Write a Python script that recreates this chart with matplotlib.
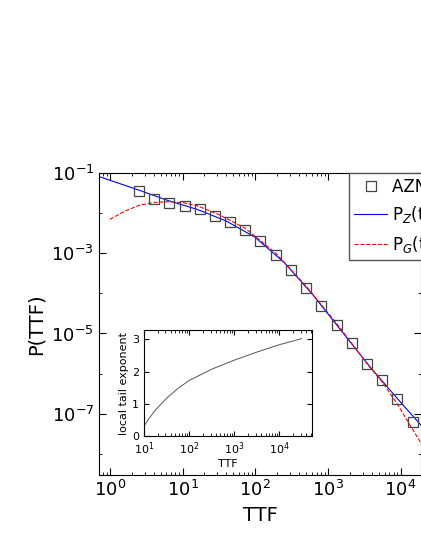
import numpy as np
import matplotlib
matplotlib.use("Agg")
import matplotlib.pyplot as plt

# data (log10 values)
pts_logx = [0.40,0.61,0.82,1.03,1.24,1.44,1.65,1.86,2.07,2.28,2.49,2.70,2.91,3.12,3.33,3.54,3.75,3.95,4.17]
pts_logy = [-1.44,-1.63,-1.73,-1.82,-1.90,-2.07,-2.21,-2.42,-2.69,-3.03,-3.42,-3.87,-4.31,-4.79,-5.24,-5.76,-6.17,-6.64,-7.21]
pz_logx = [-0.2,0.4,0.8,1.2,1.6,2.0,2.4,2.8,3.2,3.6,4.0,4.3]
pz_logy = [-1.05,-1.42,-1.68,-1.90,-2.19,-2.60,-3.23,-4.05,-4.97,-5.88,-6.72,-7.33]
pg_logx = [0.0,0.2,0.4,0.6,0.8,1.0,1.2,1.5,1.86,2.28,2.7,3.12,3.54,3.75,3.95,4.3]
pg_logy = [-2.15,-1.95,-1.80,-1.73,-1.71,-1.73,-1.81,-2.03,-2.37,-2.99,-3.82,-4.75,-5.76,-6.22,-6.75,-7.8]
in_logx = [1.0,1.1,1.25,1.5,1.75,2.0,2.5,3.0,3.5,4.0,4.5]
in_y = [0.3,0.52,0.8,1.17,1.47,1.72,2.07,2.35,2.6,2.83,3.02]

fig = plt.figure(figsize=(4.21,5.45), dpi=100)
ax = fig.add_axes([0.235,0.128,0.765,0.554])
ax.set_xscale('log'); ax.set_yscale('log')
p = lambda a: 10**np.array(a)
ax.plot(p(pz_logx), p(pz_logy), color='blue', lw=0.8, label=r'P$_Z$(t)')
ax.plot(p(pg_logx), p(pg_logy), color='red', lw=0.8, ls='--', label=r'P$_G$(t)')
ax.plot(p(pts_logx), p(pts_logy), ls='none', marker='s', mfc='none', mec='#444444', ms=7, mew=0.9, label='AZN data')
ax.set_xlim(10**-0.15, 10**4.28)
ax.set_ylim(10**-8.54, 1e-1)
ax.set_yticks([1e-1,1e-3,1e-5,1e-7])
ax.set_xticks([1,10,100,1e3,1e4])
ax.yaxis.set_minor_locator(matplotlib.ticker.LogLocator(numticks=20))
ax.yaxis.set_minor_formatter(matplotlib.ticker.NullFormatter())
ax.tick_params(which='both', direction='in', top=True, right=True, labelsize=13)
ax.tick_params(which='major', length=5)
ax.set_xlabel('TTF', fontsize=14)
ax.set_ylabel('P(TTF)', fontsize=14)
h, l = ax.get_legend_handles_labels()
ax.legend([h[2],h[0],h[1]], [l[2],l[0],l[1]], loc='upper left', bbox_to_anchor=(349/421, 1-173/545),
          bbox_transform=fig.transFigure, fancybox=False, edgecolor='#555555', fontsize=12, framealpha=1,
          handlelength=2.0, handletextpad=0.3, borderpad=0.3, borderaxespad=0)

ins = fig.add_axes([0.342,0.2,0.399,0.194])
ins.set_xscale('log')
ins.plot(p(in_logx), in_y, color='#555555', lw=0.7)
ins.set_xlim(10, 10**4.73)
ins.set_ylim(0, 3.28)
ins.set_yticks([0,1,2,3])
ins.tick_params(which='both', direction='in', top=True, right=True, labelsize=8)
ins.set_xlabel('TTF', fontsize=8, labelpad=1)
ins.set_ylabel('local tail exponent', fontsize=8, labelpad=2)
fig.savefig('out.png', dpi=100)
